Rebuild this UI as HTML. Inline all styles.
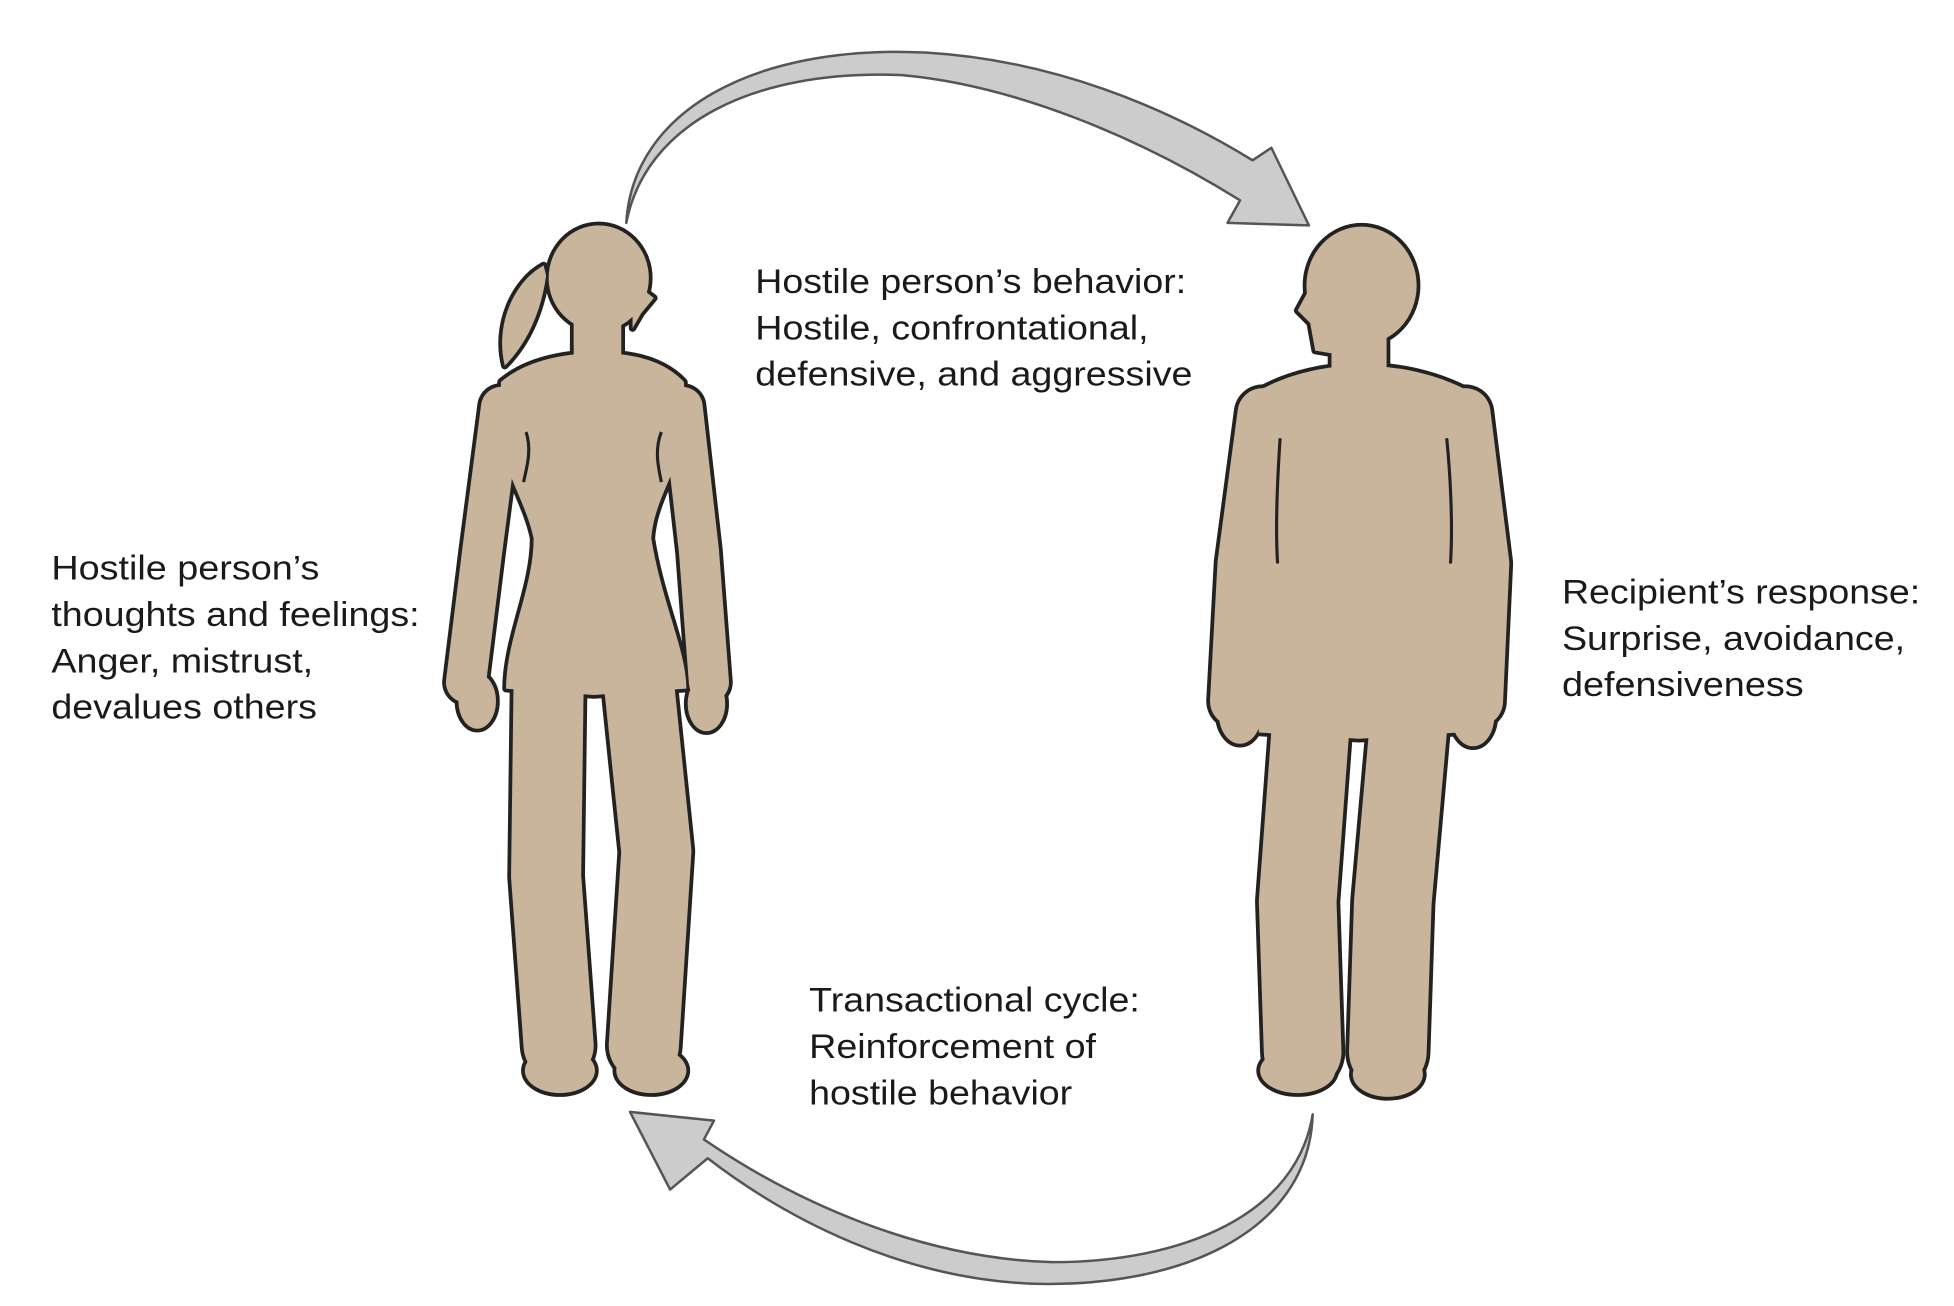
<!DOCTYPE html>
<html><head><meta charset="utf-8"><style>
html,body{margin:0;padding:0;background:#fff;width:1954px;height:1306px;overflow:hidden}
svg{display:block}
text{font-family:"Liberation Sans",sans-serif;font-size:27px;fill:#1a1a1a}
</style></head><body>
<svg width="1954" height="1306" viewBox="0 0 1560 1043" preserveAspectRatio="none">
<!-- outlines via thicker black copy -->
<g fill="#222" stroke="#222" stroke-width="6" stroke-linejoin="round">
  <ellipse cx="478" cy="222" rx="40" ry="42"/>
  <path d="M505,225 L522,238 L512,250 L505,262 Z"/>
  <path d="M434,212 C410,225 395,260 403,292 C420,275 432,250 436,220 Z"/>
  <rect x="458" y="240" width="38" height="65"/>
  <path d="M400,305 C420,288 450,282 478,282 C505,282 530,288 546,305 L548,340 C540,380 522,400 520,430 C528,480 548,520 548,550 L474,555 L404,550 C404,510 426,470 426,430 C420,400 398,370 398,340 Z"/>
  <ellipse cx="381" cy="560" rx="15" ry="22"/><ellipse cx="564" cy="562" rx="15" ry="22"/>
  <ellipse cx="447" cy="855" rx="28" ry="18"/><ellipse cx="520" cy="855" rx="28" ry="18"/>
  <ellipse cx="1087" cy="228" rx="44" ry="47"/>
  <path d="M1050,222 L1036,248 L1046,258 L1050,280 L1080,285 Z"/>
  <rect x="1063" y="255" width="44" height="55"/>
  <path d="M1005,312 C1030,298 1060,292 1085,292 C1115,292 1145,298 1172,312 L1182,345 C1178,400 1172,430 1170,480 L1165,585 L1085,590 L1005,585 L1000,480 C998,430 996,400 996,345 Z"/>
  <ellipse cx="990" cy="570" rx="17" ry="24"/><ellipse cx="1176" cy="572" rx="17" ry="24"/>
  <ellipse cx="1036" cy="855" rx="30" ry="18"/><ellipse cx="1108" cy="858" rx="28" ry="18"/>
</g>
<g fill="none" stroke="#222" stroke-linecap="round" stroke-linejoin="round">
  <polyline points="400,325 385,440 372,545" stroke-width="38"/>
  <polyline points="545,325 558,440 566,545" stroke-width="38"/>
  <polyline points="438,545 436,700 446,835" stroke-width="62"/>
  <polyline points="510,545 524,680 514,835" stroke-width="62"/>
  <polyline points="1008,330 992,450 986,560" stroke-width="46"/>
  <polyline points="1170,330 1185,450 1180,560" stroke-width="46"/>
  <polyline points="1046,585 1036,720 1040,840" stroke-width="68"/>
  <polyline points="1124,585 1112,720 1108,840" stroke-width="68"/>
</g>
<!-- fills -->
<g fill="#c9b59c" stroke="none">
  <ellipse cx="478" cy="222" rx="40" ry="42"/>
  <path d="M505,225 L522,238 L512,250 L505,262 Z"/>
  <path d="M434,212 C410,225 395,260 403,292 C420,275 432,250 436,220 Z"/>
  <rect x="458" y="240" width="38" height="65"/>
  <path d="M400,305 C420,288 450,282 478,282 C505,282 530,288 546,305 L548,340 C540,380 522,400 520,430 C528,480 548,520 548,550 L474,555 L404,550 C404,510 426,470 426,430 C420,400 398,370 398,340 Z"/>
  <ellipse cx="381" cy="560" rx="15" ry="22"/><ellipse cx="564" cy="562" rx="15" ry="22"/>
  <ellipse cx="447" cy="855" rx="28" ry="18"/><ellipse cx="520" cy="855" rx="28" ry="18"/>
  <ellipse cx="1087" cy="228" rx="44" ry="47"/>
  <path d="M1050,222 L1036,248 L1046,258 L1050,280 L1080,285 Z"/>
  <rect x="1063" y="255" width="44" height="55"/>
  <path d="M1005,312 C1030,298 1060,292 1085,292 C1115,292 1145,298 1172,312 L1182,345 C1178,400 1172,430 1170,480 L1165,585 L1085,590 L1005,585 L1000,480 C998,430 996,400 996,345 Z"/>
  <ellipse cx="990" cy="570" rx="17" ry="24"/><ellipse cx="1176" cy="572" rx="17" ry="24"/>
  <ellipse cx="1036" cy="855" rx="30" ry="18"/><ellipse cx="1108" cy="858" rx="28" ry="18"/>
</g>
<g fill="none" stroke="#c9b59c" stroke-linecap="round" stroke-linejoin="round">
  <polyline points="400,325 385,440 372,545" stroke-width="32"/>
  <polyline points="545,325 558,440 566,545" stroke-width="32"/>
  <polyline points="438,545 436,700 446,835" stroke-width="56"/>
  <polyline points="510,545 524,680 514,835" stroke-width="56"/>
  <polyline points="1008,330 992,450 986,560" stroke-width="40"/>
  <polyline points="1170,330 1185,450 1180,560" stroke-width="40"/>
  <polyline points="1046,585 1036,720 1040,840" stroke-width="62"/>
  <polyline points="1124,585 1112,720 1108,840" stroke-width="62"/>
</g>
<g stroke="#222" stroke-width="2.5" fill="none">
  <path d="M420,345 C425,360 420,375 418,385"/>
  <path d="M528,345 C522,360 526,375 528,385"/>
  <path d="M1022,350 C1020,380 1018,420 1020,450"/>
  <path d="M1155,350 C1158,380 1160,420 1158,450"/>
</g>
<!-- arrows -->
<path d="M500,178 C505,90 600,35 740,42 C840,48 930,85 1000,128 L1015,118 L1045,180 L980,178 L990,160 C910,110 810,68 720,60 C600,55 515,100 500,178 Z" fill="#cccccc" stroke="#555" stroke-width="2" stroke-linejoin="round"/>
<path d="M1048,890 C1045,985 940,1030 820,1025 C720,1020 630,975 565,925 L535,950 L503,888 L570,895 L562,910 C635,960 735,1005 840,1008 C945,1008 1035,970 1048,890 Z" fill="#cccccc" stroke="#555" stroke-width="2" stroke-linejoin="round"/>
<!-- labels -->
<g lengthAdjust="spacingAndGlyphs">
<text x="603" y="234" textLength="344" lengthAdjust="spacingAndGlyphs">Hostile person’s behavior:</text>
<text x="603" y="271" textLength="314" lengthAdjust="spacingAndGlyphs">Hostile, confrontational,</text>
<text x="603" y="308" textLength="349" lengthAdjust="spacingAndGlyphs">defensive, and aggressive</text>
<text x="41" y="463" textLength="214" lengthAdjust="spacingAndGlyphs">Hostile person’s</text>
<text x="41" y="500" textLength="294" lengthAdjust="spacingAndGlyphs">thoughts and feelings:</text>
<text x="41" y="537" textLength="209" lengthAdjust="spacingAndGlyphs">Anger, mistrust,</text>
<text x="41" y="574" textLength="212" lengthAdjust="spacingAndGlyphs">devalues others</text>
<text x="1247" y="482" textLength="286" lengthAdjust="spacingAndGlyphs">Recipient’s response:</text>
<text x="1247" y="519" textLength="274" lengthAdjust="spacingAndGlyphs">Surprise, avoidance,</text>
<text x="1247" y="556" textLength="193" lengthAdjust="spacingAndGlyphs">defensiveness</text>
<text x="646" y="808" textLength="264" lengthAdjust="spacingAndGlyphs">Transactional cycle:</text>
<text x="646" y="845" textLength="229" lengthAdjust="spacingAndGlyphs">Reinforcement of</text>
<text x="646" y="882" textLength="210" lengthAdjust="spacingAndGlyphs">hostile behavior</text>
</g>
</svg>
</body></html>
